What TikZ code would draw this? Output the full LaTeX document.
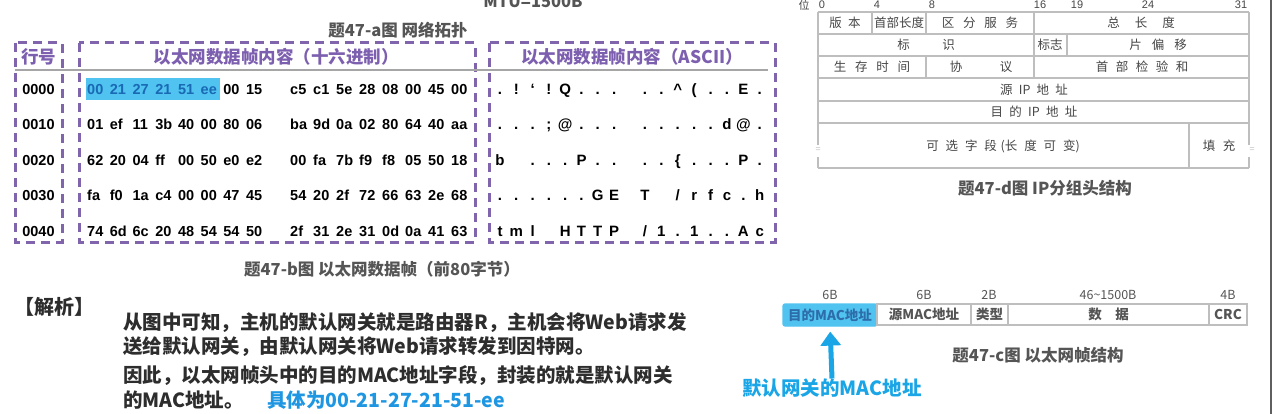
\documentclass[tikz,border=0pt]{standalone}
\usepackage{fontspec}
\setmainfont{Noto Sans CJK SC}
\newfontfamily\lib{Liberation Sans}
\usetikzlibrary{arrows.meta}
\definecolor{purp}{RGB}{128,100,172}
\definecolor{purptext}{RGB}{125,95,175}
\definecolor{cyanhl}{RGB}{80,195,240}
\definecolor{hltext}{RGB}{25,105,180}
\definecolor{capgray}{RGB}{85,85,85}
\definecolor{linegray}{RGB}{190,190,190}
\definecolor{ipgray}{RGB}{70,70,70}
\definecolor{txt}{RGB}{45,45,45}
\definecolor{blu}{RGB}{30,150,225}
\definecolor{arrowc}{RGB}{25,165,230}
\definecolor{edge}{RGB}{95,95,95}
\newcommand\gp[1]{\hspace*{#1em}}
\begin{document}
\begin{tikzpicture}[x=1pt,y=-1pt,
  dbox/.style={draw=purp, line width=3pt, dash pattern=on 9pt off 6pt},
  hdr/.style={text=purptext, font=\fontsize{17.5}{20}\selectfont\bfseries, inner sep=0},
  rowno/.style={anchor=base, text=black, font={\lib\fontsize{14.5}{17}\selectfont\bfseries}, inner sep=0},
  hexb/.style={anchor=base west, font={\lib\fontsize{14.5}{17}\selectfont\bfseries}, inner sep=0},
  asc/.style={anchor=base, text=black, font={\lib\fontsize{15}{17}\selectfont\bfseries}, inner sep=0},
  capt/.style={text=capgray, font=\fontsize{16.5}{19}\selectfont\bfseries, inner sep=0},
  para/.style={anchor=west, text=txt, font=\fontsize{19.5}{22}\selectfont\bfseries, inner sep=0},
  iptext/.style={text=ipgray, font=\fontsize{12.5}{14}\selectfont, inner sep=0},
  bitlab/.style={text=ipgray, font={\lib\fontsize{11}{12}\selectfont}, inner sep=0},
  ipline/.style={draw=linegray, line width=1.2pt},
  fcell/.style={draw=linegray, line width=1.2pt, minimum height=21pt, inner sep=0,
    text=capgray, font=\fontsize{13.5}{15}\selectfont\bfseries},
  bytelab/.style={text=capgray, font=\fontsize{12.5}{14}\selectfont, inner sep=0}
]
\useasboundingbox (0,0) rectangle (1274,414);

% ---------- top captions ----------
\node[capt] (mtu) at (533,1.5) {MTU=1500B};
\node[capt] (capa) at (398,30) {题47-a图 网络拓扑};

% ---------- dashed boxes ----------
\draw[dbox] (15,43) rectangle (62,242);
\draw[dbox] (79,43) rectangle (475,242);
\draw[dbox] (489,43) rectangle (775,242);
\draw[draw=gray!70, line width=1.3pt] (15,70) -- (768,70);

\node[hdr] (hrow) at (38.5,57) {行号};
\node[hdr] (hhex) at (276,57) {以太网数据帧内容（十六进制）};
\node[hdr] (hasc) at (632,57) {以太网数据帧内容（ASCII）};

% highlight
\node[fill=cyanhl, minimum width=134pt, minimum height=22pt, inner sep=0] (hl) at (153,89) {};

% row numbers
\foreach \num [count=\k] in {0000,0010,0020,0030,0040}{
  \pgfmathsetmacro\yy{58.7+35.5*\k}
  \node[rowno] (r\k) at (38.5,\yy) {\num};
}

% hex bytes, first group
\foreach \lst [count=\k] in {{00,21,27,21,51,ee,00,15},{01,ef,11,3b,40,00,80,06},{62,20,04,ff,00,50,e0,e2},{fa,f0,1a,c4,00,00,47,45},{74,6d,6c,20,48,54,54,50}}{
  \pgfmathsetmacro\yy{58.7+35.5*\k}
  \foreach \b [count=\i] in \lst {
    \ifnum\k=1 \ifnum\i<7 \def\tc{hltext}\else\def\tc{black}\fi\else\def\tc{black}\fi
    \pgfmathsetmacro\xx{87+(\i-1)*22.7}
    \node[hexb, text=\tc] (ha\k-\i) at (\xx,\yy) {\b};
  }
}
% hex bytes, second group
\foreach \lst [count=\k] in {{c5,c1,5e,28,08,00,45,00},{ba,9d,0a,02,80,64,40,aa},{00,fa,7b,f9,f8,05,50,18},{54,20,2f,72,66,63,2e,68},{2f,31,2e,31,0d,0a,41,63}}{
  \pgfmathsetmacro\yy{58.7+35.5*\k}
  \foreach \b [count=\i] in \lst {
    \pgfmathsetmacro\xx{290+(\i-1)*23}
    \node[hexb, text=black] (hb\k-\i) at (\xx,\yy) {\b};
  }
}
% ASCII, first group
\foreach \lst [count=\k] in {{{.},{!},{‘},{!},{Q},{.},{.},{.}},{{.},{.},{.},{;},{@},{.},{.},{.}},{{b},{},{.},{.},{.},{P},{.},{.}},{{.},{.},{.},{.},{.},{.},{G},{E}},{{t},{m},{l},{},{H},{T},{T},{P}}}{
  \pgfmathsetmacro\yy{59+35.5*\k}
  \foreach \c [count=\i] in \lst {
    \pgfmathsetmacro\xx{500+(\i-1)*16.3}
    \node[asc] (aa\k-\i) at (\xx,\yy) {\c};
  }
}
% ASCII, second group
\foreach \lst [count=\k] in {{{.},{.},{\textasciicircum},{(},{.},{.},{E},{.}},{{.},{.},{.},{.},{.},{d},{@},{.}},{{.},{.},{\{},{.},{.},{.},{P},{.}},{{T},{},{/},{r},{f},{c},{.},{h}},{{/},{1},{.},{1},{.},{.},{A},{c}}}{
  \pgfmathsetmacro\yy{59+35.5*\k}
  \foreach \c [count=\i] in \lst {
    \pgfmathsetmacro\xx{645+(\i-1)*16.4}
    \node[asc] (ab\k-\i) at (\xx,\yy) {\c};
  }
}

\node[capt] (capb) at (382,269) {题47-b图 以太网数据帧（前80字节）};

% ---------- analysis text ----------
\node[anchor=west, text=txt, font=\fontsize{20}{22}\selectfont\bfseries, inner sep=0] (jx) at (14,307) {【解析】};
\node[para] (p1) at (123,323) {从图中可知，主机的默认网关就是路由器R，主机会将Web请求发};
\node[para] (p2) at (123,347) {送给默认网关，由默认网关将Web请求转发到因特网。};
\node[para] (p3) at (123,376) {因此，以太网帧头中的目的MAC地址字段，封装的就是默认网关};
\node[para] (p4) at (123,400) {的MAC地址。};
\node[para, text=blu] (p5) at (267,400) {具体为00-21-27-21-51-ee};

% ---------- IP header ----------
\node[text=ipgray, font=\fontsize{11}{12}\selectfont, inner sep=0] (bw) at (804,5) {位};
\foreach \x/\t in {822/0,877/4,932/8,1040/16,1077/19,1148/24,1241/31}{
  \node[bitlab] (bit\t) at (\x,5) {\t};
}
\foreach \y in {12,34,56,78,101,123,168}{
  \draw[ipline] (818,\y) -- (1249,\y);
}
\draw[ipline] (818,12) -- (818,145);
\draw[ipline] (818,157) -- (818,168);
\draw[ipline] (1249,12) -- (1249,145);
\draw[ipline] (1249,157) -- (1249,168);
\draw[ipline] (872,12) -- (872,34);
\draw[ipline] (926,12) -- (926,34);
\draw[ipline] (1034,12) -- (1034,78);
\draw[ipline] (1067,34) -- (1067,56);
\draw[ipline] (926,56) -- (926,78);
\draw[ipline] (1189,123) -- (1189,168);
\node[text=linegray, font=\fontsize{9}{10}\selectfont, inner sep=0] (eql) at (818,150) {=};
\node[text=linegray, font=\fontsize{9}{10}\selectfont, inner sep=0] (eqr) at (1252,150) {=};

\node[iptext] (f1) at (845,23) {版\gp{0.5}本};
\node[iptext] (f2) at (899,23) {首部长度};
\node[iptext] (f3) at (980,23) {区\gp{0.7}分\gp{0.7}服\gp{0.7}务};
\node[iptext] (f4) at (1141,23) {总\gp{1.2}长\gp{1.2}度};
\node[iptext] (f5) at (926,45) {标\gp{2.6}识};
\node[iptext] (f6) at (1050,45) {标志};
\node[iptext] (f7) at (1158,45) {片\gp{0.8}偏\gp{0.8}移};
\node[iptext] (f8) at (872,67) {生\gp{0.7}存\gp{0.7}时\gp{0.7}间};
\node[iptext] (f9) at (981,67) {协\gp{3}议};
\node[iptext] (f10) at (1142,67) {首\gp{0.6}部\gp{0.6}检\gp{0.6}验\gp{0.6}和};
\node[iptext] (f11) at (1034,90) {源\gp{0.5}IP\gp{0.5}地\gp{0.5}址};
\node[iptext] (f12) at (1034,112) {目\gp{0.5}的\gp{0.5}IP\gp{0.5}地\gp{0.5}址};
\node[iptext] (f13) at (1003,146) {可\gp{0.55}选\gp{0.55}字\gp{0.55}段\gp{0.3}(长\gp{0.55}度\gp{0.55}可\gp{0.55}变)};
\node[iptext] (f14) at (1219,146) {填\gp{0.6}充};
\node[capt] (capd) at (1045,188) {题47-d图 IP分组头结构};

% ---------- Ethernet frame ----------
\node[bytelab] (l1) at (830,295) {6B};
\node[bytelab] (l2) at (924,295) {6B};
\node[bytelab] (l3) at (989,295) {2B};
\node[bytelab] (l4) at (1108,295) {46\textasciitilde1500B};
\node[bytelab] (l5) at (1228,295) {4B};
\node[fcell, fill=cyanhl, draw=cyanhl, rounded corners=2pt, minimum width=94pt, minimum height=22pt, text=hltext!80!gray] (dst) at (830,315) {目的MAC地址};
\node[fcell, minimum width=94pt] (src) at (924,314.5) {源MAC地址};
\node[fcell, minimum width=37pt] (typ) at (989.5,314.5) {类型};
\node[fcell, minimum width=201pt] (dat) at (1108.5,314.5) {数\gp{1}据};
\node[fcell, minimum width=38pt] (crc) at (1228,314.5) {CRC};
\node[capt] (capc) at (1038,355) {题47-c图 以太网帧结构};

\node[text=arrowc, font=\fontsize{19.5}{22}\selectfont\bfseries, inner sep=0] (gw) at (832,388) {默认网关的MAC地址};
\draw[arrowc, line width=5pt, -{Triangle[width=20pt,length=14pt]}, shorten >=5pt] (gw.north) -- (dst.south);

% right edge line
\draw[edge, line width=2pt] (1270.5,0) -- (1270.5,414);
\end{tikzpicture}
\end{document}
